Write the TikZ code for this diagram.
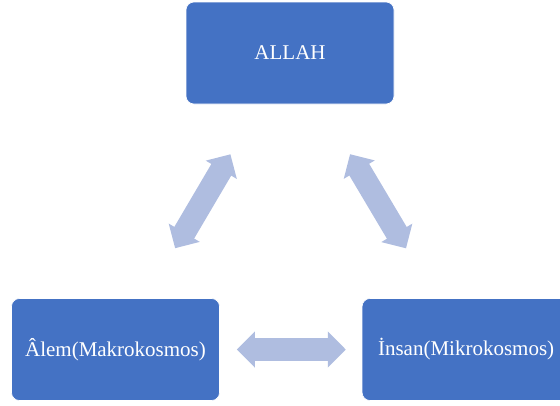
\documentclass[tikz,border=0pt]{standalone}
\usepackage{fontspec}
\setmainfont{Liberation Serif}
\usepackage{xcolor}
\usepackage{tikz}
\usetikzlibrary{arrows.meta,positioning}

\definecolor{boxblue}{HTML}{4472C4}
\definecolor{arrowblue}{HTML}{AFBDE0}

\begin{document}
\begin{tikzpicture}[
    x=1pt, y=-1pt,
    font=\fontsize{21}{25}\selectfont,
    conceptbox/.style={rectangle, draw=white, line width=0.6pt, fill=boxblue, text=white, rounded corners=8pt, minimum width=208pt, minimum height=102pt, inner sep=0pt, text centered},
    blockarrow/.style={draw=arrowblue, line width=23pt, {Triangle[length=18pt,width=35pt]}-{Triangle[length=18pt,width=35pt]}}
]
    \useasboundingbox (0,0) rectangle (560,405);

    \node (allah) [conceptbox] at (290,53) {ALLAH};
    \node (alem) [conceptbox] at (115.5,349.5) {Âlem(Makrokosmos)};
    \node (insan) [conceptbox, right=142pt of alem] {İnsan(Mikrokosmos)};

    \draw [blockarrow, shorten <=58pt, shorten >=58pt] (allah) -- (alem);
    \draw [blockarrow, shorten <=58pt, shorten >=58pt] (allah) -- (insan);
    \draw [blockarrow, shorten <=17pt, shorten >=16pt] (alem) -- (insan);
\end{tikzpicture}
\end{document}
